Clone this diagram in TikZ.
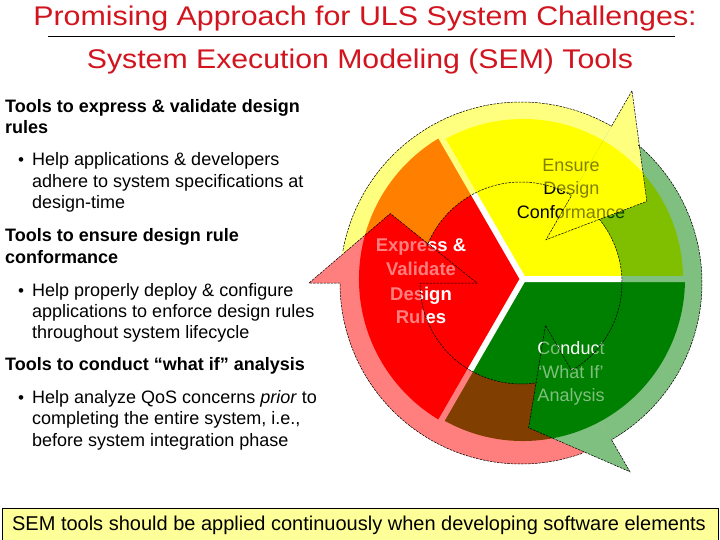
\documentclass[tikz,border=0pt]{standalone}
\usepackage{graphicx}
\usepackage{fontspec}
\setmainfont{Liberation Sans}
\definecolor{titlered}{RGB}{210,20,30}
\definecolor{pyellow}{RGB}{255,255,0}
\definecolor{pgreen}{RGB}{0,128,0}
\definecolor{pred}{RGB}{255,0,0}
\definecolor{boxyellow}{RGB}{255,255,153}
\tikzset{
  titletext/.style={anchor=base, inner sep=0pt, text=titlered, font=\fontsize{27}{32}\selectfont},
  headtext/.style={anchor=base west, inner sep=0pt, font=\fontsize{18}{21.5}\selectfont\bfseries},
  bodytext/.style={anchor=base west, inner sep=0pt, font=\fontsize{18}{21.5}\selectfont},
  bullettext/.style={anchor=base west, inner sep=0pt, font=\fontsize{17}{21.5}\selectfont},
  ringtext/.style={anchor=base, inner sep=0pt, font=\fontsize{18}{22}\selectfont},
  outl/.style={black, line width=0.5pt, dash pattern=on 2.5pt off 1pt},
}
\begin{document}
\begin{tikzpicture}[x=1pt,y=1pt]
\useasboundingbox (0,0) rectangle (720,-540);
\fill[white] (0,0) rectangle (720,-540);

% ---- title
\node[titletext] (t1) at (365,-26) {\scalebox{1.125}[1]{Promising Approach for ULS System Challenges:}};
\coordinate (r1) at (48,-36);
\coordinate (r2) at (675,-36);
\draw[line width=0.9pt] (r1) -- (r2);
\node[titletext] (t2) at (360,-68.3) {\scalebox{1.12}[1]{System Execution Modeling (SEM) Tools}};

% ---- left text
\node[headtext] (h1a) at (5,-112.7) {Tools to express \& validate design};
\node[headtext] (h1b) at (5,-134) {rules};
\node[bullettext] (b1) at (18,-166) {•};
\node[bodytext] (p1a) at (32,-166) {Help applications \& developers};
\node[bodytext] (p1b) at (32,-187.3) {adhere to system specifications at};
\node[bodytext] (p1c) at (32,-208.6) {design-time};
\node[headtext] (h2a) at (5,-241.7) {Tools to ensure design rule};
\node[headtext] (h2b) at (5,-263) {conformance};
\node[bullettext] (b2) at (18,-296.7) {•};
\node[bodytext] (p2a) at (32,-296.7) {Help properly deploy \& configure};
\node[bodytext] (p2b) at (32,-317.6) {applications to enforce design rules};
\node[bodytext] (p2c) at (32,-338.5) {throughout system lifecycle};
\node[headtext] (h3a) at (5,-370) {Tools to conduct “what if” analysis};
\node[bullettext] (b3) at (18,-403) {•};
\node[bodytext] (p3a) at (32,-403) {Help analyze QoS concerns \textit{prior} to};
\node[bodytext] (p3b) at (32,-424.8) {completing the entire system, i.e.,};
\node[bodytext] (p3c) at (32,-446.6) {before system integration phase};

% ---- bottom box
\node[draw=black, line width=0.8pt, fill=boxyellow, minimum width=716pt, minimum height=40pt, inner sep=0pt] (box) at (360,-528) {};
\node[anchor=base, inner sep=0pt, font=\fontsize{20}{24}\selectfont] (boxtext) at (359,-530) {SEM tools should be applied continuously when developing software elements};

% ---- pie
\begin{scope}[shift={(523,-279)}]
  \fill[pyellow] (0,0) -- (0:160) arc[start angle=0,end angle=120,radius=160pt] -- cycle;
  \fill[pred] (0,0) -- (120:164) arc[start angle=120,end angle=240,radius=164pt] -- cycle;
  \fill[pgreen] (0,0) -- (240:162) arc[start angle=240,end angle=360,radius=162pt] -- cycle;
  \draw[white, line width=6pt] (0,0) -- (0:168) (0,0) -- (120:168) (0,0) -- (240:168);
\end{scope}

% ---- sector labels
\node[ringtext] (e1) at (571,-171.7) {Ensure};
\node[ringtext] (e2) at (571.5,-195) {Design};
\node[ringtext] (e3) at (571,-218.3) {Conformance};
\node[ringtext, text=white, font=\fontsize{18.5}{22}\selectfont\bfseries] (x1) at (421,-251.7) {Express \&};
\node[ringtext, text=white, font=\fontsize{18.5}{22}\selectfont\bfseries] (x2) at (421,-275) {Validate};
\node[ringtext, text=white, font=\fontsize{18.5}{22}\selectfont\bfseries] (x3) at (421,-300.5) {Design};
\node[ringtext, text=white, font=\fontsize{18.5}{22}\selectfont\bfseries] (x4) at (421,-323.3) {Rules};
\node[ringtext, text=white] (c1) at (571,-354) {Conduct};
\node[ringtext, text=white] (c2) at (571,-378.3) {‘What If’};
\node[ringtext, text=white] (c3) at (571,-401.7) {Analysis};

% ---- translucent circular arrows
\begin{scope}[shift={(521,-283)}]
  \begin{scope}[transparency group, opacity=0.5]
    \fill[pyellow] (180:181) arc[start angle=180,end angle=60,radius=181pt] -- (60:101) arc[start angle=60,end angle=180,radius=101pt] -- cycle;
    \fill[pred] (300:181) arc[start angle=300,end angle=180,radius=181pt] -- (180:101) arc[start angle=180,end angle=300,radius=101pt] -- cycle;
    \fill[pgreen] (420:181) arc[start angle=420,end angle=300,radius=181pt] -- (300:101) arc[start angle=300,end angle=420,radius=101pt] -- cycle;
    \fill[pyellow] (60:181) -- (60:222) -- (33:150) -- (60:50) -- (60:101) -- cycle;
    \fill[pred] (180:181) -- (180:212) -- (152:148) -- (180:44) -- (180:101) -- cycle;
    \fill[pgreen] (300:181) -- (300:218) -- (273:145) -- (300:49) -- (300:101) -- cycle;
  \end{scope}
  \draw[outl] (169.7:181) arc[start angle=169.7,end angle=60,radius=181pt] -- (60:222) -- (33:150) -- (60:50) -- (60:101) arc[start angle=60,end angle=159.1,radius=101pt];
  \draw[outl] (289.7:181) arc[start angle=289.7,end angle=180,radius=181pt] -- (180:212) -- (152:148) -- (180:44) -- (180:101) arc[start angle=180,end angle=279.1,radius=101pt];
  \draw[outl] (409.7:181) arc[start angle=409.7,end angle=300,radius=181pt] -- (300:218) -- (273:145) -- (300:49) -- (300:101) arc[start angle=300,end angle=399.1,radius=101pt];
\end{scope}
\end{tikzpicture}
\end{document}
